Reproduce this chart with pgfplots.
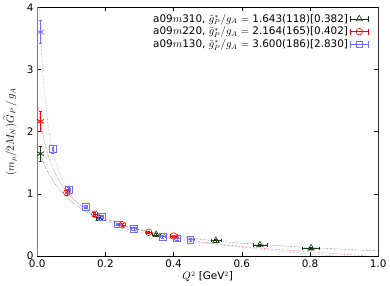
\documentclass[border=0pt]{standalone}
\usepackage{fontspec}
\setmainfont{DejaVu Sans}
\usepackage{pgfplots}
\pgfplotsset{compat=1.18}
\definecolor{cblk}{RGB}{25,55,25}
\definecolor{cred}{RGB}{255,0,0}
\definecolor{cblu}{RGB}{110,110,255}
\begin{document}
\fontsize{10.5}{12.5}\selectfont
\begin{tikzpicture}
\begin{axis}[
  scale only axis, width=343bp, height=250bp,
  xmin=0, xmax=1, ymin=0, ymax=4,
  xtick={0,0.2,0.4,0.6,0.8,1.0}, ytick={0,1,2,3,4},
  xticklabel style={/pgf/number format/fixed,/pgf/number format/fixed zerofill,/pgf/number format/precision=1},
  /pgf/number format/assume math mode=true,
  tick label style={font=\fontsize{10.5}{12.5}\selectfont},
  label style={font=\fontsize{10.5}{12.5}\selectfont},
  tick align=inside, major tick length=4bp,
  tick style={black, thin},
  axis line style={black, line width=0.5pt},
  xlabel={$Q^2$ [GeV$^2$]},
  ylabel={$(m_\mu/2M_N)\widetilde{G}_P\,/\,g_A$},
  ylabel style={yshift=3bp},
  xlabel style={yshift=3bp},
  legend style={at={(0.975,0.985)}, anchor=north east, draw=none, fill=none, row sep=-1pt, font=\fontsize{10.5}{12.5}\selectfont, inner sep=1pt},
  legend plot pos=right,
  legend cell align=right,
  legend image code/.code={
    \draw[mark=none, line width=0.6pt, |-|] (0bp,0bp) -- (18bp,0bp);
    \draw[mark repeat=2, mark phase=2] plot coordinates {(0bp,0bp)(9bp,0bp)(18bp,0bp)};
  },
  error bars/error bar style={line width=0.5pt},
  error bars/error mark options={rotate=90, mark size=1.6pt},
]
% frame sides in grey
\draw[gray, line width=1.2pt] (rel axis cs:0,0) -- (rel axis cs:0,1);
\draw[gray, line width=1.2pt] (rel axis cs:1,0) -- (rel axis cs:1,1);
% fit curves
\addplot[cblk, densely dotted, thin, smooth, forget plot] coordinates {
(0,1.80)(0.005,1.71)(0.0098,1.63)(0.02,1.49)(0.03,1.37)(0.04,1.27)(0.06,1.10)(0.08,0.976)(0.10,0.875)(0.13,0.757)(0.16,0.666)(0.2,0.573)(0.25,0.486)(0.3,0.42)(0.35,0.367)(0.4,0.325)(0.5,0.256)(0.6,0.204)(0.7,0.168)(0.8,0.135)(0.9,0.106)(1.0,0.081)};
\addplot[cred, densely dotted, thin, smooth, forget plot] coordinates {
(0,2.54)(0.005,2.32)(0.0098,2.15)(0.02,1.86)(0.03,1.65)(0.04,1.49)(0.06,1.25)(0.08,1.08)(0.10,0.95)(0.13,0.81)(0.17,0.68)(0.2,0.60)(0.25,0.50)(0.3,0.42)(0.35,0.355)(0.4,0.30)(0.5,0.21)(0.6,0.15)(0.7,0.105)(0.8,0.065)(0.9,0.025)(0.95,0.005)(1.0,-0.015)};
\addplot[cblu, densely dotted, thin, smooth, forget plot] coordinates {
(0.004,4.51)(0.008,3.86)(0.0098,3.63)(0.015,3.10)(0.02,2.72)(0.03,2.19)(0.04,1.84)(0.05,1.59)(0.06,1.41)(0.08,1.15)(0.10,0.97)(0.12,0.84)(0.15,0.71)(0.2,0.55)(0.25,0.45)(0.3,0.38)(0.4,0.27)(0.5,0.20)(0.6,0.14)(0.7,0.08)(0.8,0.03)(0.9,-0.01)(1.0,-0.05)};
% stars
\addplot[cblk, only marks, mark=asterisk, mark size=4pt, thick, forget plot,
  error bars/.cd, y dir=both, y explicit] coordinates {(0.0098,1.643) +- (0,0.118)};
\addplot[cred, only marks, mark=asterisk, mark size=4pt, thick, forget plot,
  error bars/.cd, y dir=both, y explicit] coordinates {(0.0098,2.164) +- (0,0.165)};
\addplot[cblu, only marks, mark=asterisk, mark size=4pt, thick, forget plot,
  error bars/.cd, y dir=both, y explicit] coordinates {(0.0098,3.600) +- (0,0.186)};
% data
\addplot[cblk, only marks, mark=triangle, mark size=3.8pt, semithick,
  error bars/.cd, x dir=both, x explicit, y dir=both, y explicit,
  ] coordinates {
(0.182,0.60) +- (0.01,0.03)
(0.349,0.34) +- (0.012,0.02)
(0.524,0.245) +- (0.015,0.02)
(0.653,0.175) +- (0.02,0.02)
(0.803,0.125) +- (0.025,0.02)};
\addlegendentry{a09$m$310, $\tilde{g}_P^*/g_A =$ 1.643(118)[0.382]}
\addplot[cred, only marks, mark=o, mark size=3.3pt, semithick,
  error bars/.cd, x dir=both, x explicit, y dir=both, y explicit] coordinates {
(0.087,1.02) +- (0.004,0.04)
(0.169,0.67) +- (0.006,0.03)
(0.25,0.50) +- (0.008,0.03)
(0.327,0.38) +- (0.008,0.02)
(0.40,0.32) +- (0.01,0.02)};
\addlegendentry{a09$m$220, $\tilde{g}_P^*/g_A =$ 2.164(165)[0.402]}
\addplot[cblu, only marks, mark=square, mark size=3.3pt, semithick,
  error bars/.cd, x dir=both, x explicit, y dir=both, y explicit] coordinates {
(0.046,1.72) +- (0.002,0.06)
(0.093,1.06) +- (0.003,0.04)
(0.143,0.79) +- (0.004,0.03)
(0.19,0.63) +- (0.005,0.03)
(0.237,0.51) +- (0.006,0.02)
(0.284,0.44) +- (0.007,0.02)
(0.368,0.31) +- (0.008,0.02)
(0.41,0.28) +- (0.009,0.02)
(0.449,0.26) +- (0.01,0.02)};
\addlegendentry{a09$m$130, $\tilde{g}_P^*/g_A =$ 3.600(186)[2.830]}
\end{axis}
\end{tikzpicture}
\end{document}
